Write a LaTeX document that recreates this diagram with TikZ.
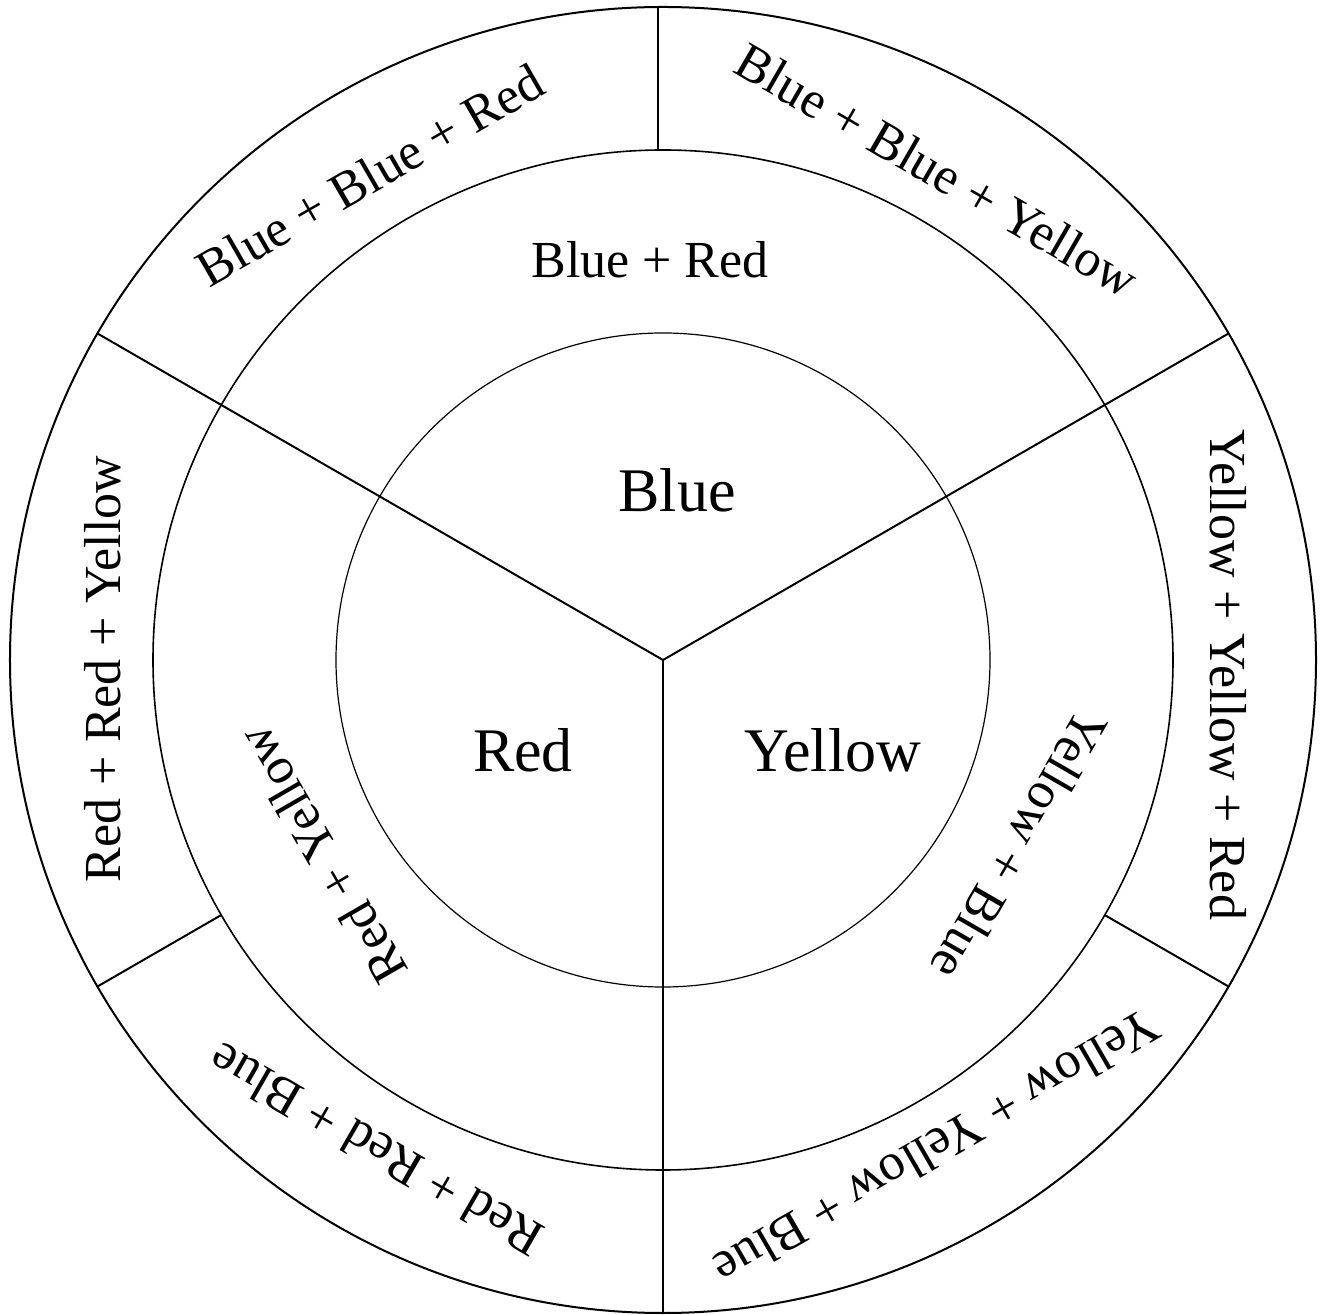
\documentclass[tikz,border=0pt]{standalone}
\usepackage{fontspec}
\setmainfont{Liberation Serif}
\begin{document}
\begin{tikzpicture}[x=0.5pt,y=0.5pt,
  ring/.style={line width=1pt},
  midring/.style={line width=0.8pt},
  innerring/.style={line width=0.6pt},
  divider/.style={line width=1pt},
  bigtext/.style={font=\fontsize{31}{37}\selectfont, inner sep=0pt},
  ringtext/.style={font=\fontsize{26}{31}\selectfont, inner sep=0pt}]
\useasboundingbox (-663,-655) rectangle (658,660);
% circles
\draw[ring] (0,0) circle [radius=326.5pt];
\draw[midring] (0,0) circle [radius=255pt];
\draw[innerring] (0,0) circle [radius=163.5pt];
% centre and ring points
\coordinate (c) at (0,0);
\coordinate (o150) at (150:653);
\coordinate (o30) at (30:653);
\coordinate (o270) at (270:653);
\coordinate (m90) at (-4.7,510);
\coordinate (o90) at (-4.7,653);
\coordinate (m210) at (210:510);
\coordinate (o210) at (210:653);
\coordinate (m330) at (330:510);
\coordinate (o330) at (330:653);
% dividers
\draw[divider] (c) -- (o150);
\draw[divider] (c) -- (o30);
\draw[divider] (c) -- (o270);
\draw[divider] (m90) -- (o90);
\draw[divider] (m210) -- (o210);
\draw[divider] (m330) -- (o330);
% inner texts
\node[bigtext] (tblue) at (14,170) {Blue};
\node[bigtext] (tred) at (-140,-90) {Red};
\node[bigtext] (tyellow) at (170,-90) {Yellow};
% middle ring texts
\node[ringtext] (tbr) at (-13,400) {Blue + Red};
\node[ringtext, rotate=120] (try) at (-341,-195) {Red + Yellow};
\node[ringtext, rotate=240] (tyb) at (357,-185) {Yellow + Blue};
% outer ring texts
\node[ringtext, rotate=30] (tbbr) at (-293,485) {Blue + Blue + Red};
\node[ringtext, rotate=-30] (tbby) at (274,490) {Blue + Blue + Yellow};
\node[ringtext, rotate=-90] (tyyr) at (565,-15) {Yellow + Yellow + Red};
\node[ringtext, rotate=90] (trry) at (-560,-9) {Red + Red + Yellow};
\node[ringtext, rotate=150] (trrb) at (-287,-490) {Red + Red + Blue};
\node[ringtext, rotate=210] (tyyb) at (274,-488) {Yellow + Yellow + Blue};
\end{tikzpicture}
\end{document}
